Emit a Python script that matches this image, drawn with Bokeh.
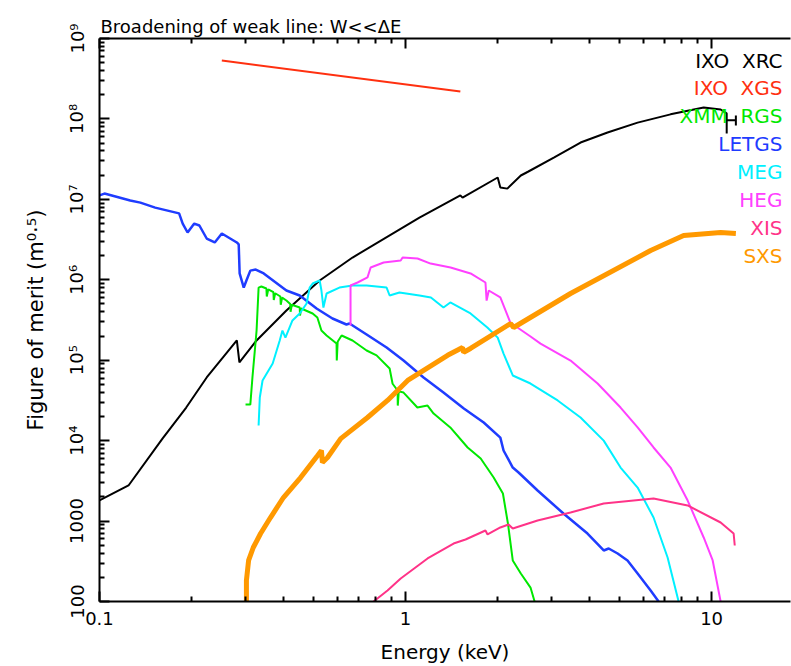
from bokeh.plotting import figure
from bokeh.models import LogAxis, FixedTicker, Label, Range1d
from bokeh.embed import file_html
from bokeh.resources import INLINE

# ---------------- data (energy keV, figure of merit m^0.5) ----------------
xrc_e = [0.100, 0.1244, 0.1606, 0.192, 0.224, 0.281, 0.2865, 0.326, 0.408, 0.524,
         0.671, 1.11, 1.51, 1.535, 2.00, 2.04, 2.15, 2.38, 2.52, 3.05, 3.73, 4.57,
         5.73, 7.34, 9.42, 10.7, 11.2, 11.2, 11.2, 12.0, 12.0, 12.0]
xrc_f = [1803, 2770, 1.06e4, 2.58e4, 6.1e4, 1.76e5, 9.4e4, 1.76e5, 4.15e5, 9.8e5,
         1.89e6, 5.94e6, 1.12e7, 1.05e7, 1.87e7, 1.40e7, 1.36e7, 1.98e7, 2.22e7, 3.31e7,
         5.09e7, 6.78e7, 9.0e7, 1.14e8, 1.39e8, 1.31e8, 1.17e8, 6.6e7, 9.6e7, 9.6e7,
         1.10e8, 8.3e7]

xgs_e = [0.251, 1.51]
xgs_f = [5.32e8, 2.19e8]

rgs_e = [0.300, 0.311, 0.316, 0.326, 0.331, 0.338, 0.351, 0.352, 0.356, 0.370, 0.371,
         0.375, 0.390, 0.391, 0.395, 0.408, 0.420, 0.421, 0.425, 0.451, 0.452, 0.456,
         0.497, 0.515, 0.531, 0.552, 0.595, 0.596, 0.600, 0.618, 0.671, 0.746, 0.804,
         0.887, 0.907, 0.942, 0.943, 0.950, 0.985, 1.093, 1.18, 1.235, 1.40, 1.595,
         1.76, 1.94, 2.08, 2.16, 2.24, 2.38, 2.56, 2.64]
rgs_f = [2.81e4, 2.81e4, 6.1e4, 2.34e5, 8.0e5, 8.25e5, 7.8e5, 6.2e5, 7.6e5, 7.0e5, 5.6e5,
         6.8e5, 6.2e5, 4.9e5, 6.0e5, 5.52e5, 5.0e5, 4.0e5, 4.9e5, 4.52e5, 3.6e5, 4.4e5,
         3.81e5, 3.40e5, 2.34e5, 2.03e5, 1.61e5, 9.9e4, 1.7e5, 2.03e5, 1.76e5, 1.32e5, 1.15e5,
         7.9e4, 5.1e4, 4.2e4, 2.73e4, 4.1e4, 3.96e4, 2.58e4, 2.73e4, 2.17e4, 1.46e4, 8220,
         6000, 3480, 2200, 933, 324, 223, 149, 100]

letg_e = [0.100, 0.1038, 0.126, 0.136, 0.152, 0.182, 0.187, 0.194, 0.204, 0.212, 0.224,
          0.238, 0.251, 0.281, 0.285, 0.287, 0.296, 0.302, 0.311, 0.324, 0.344, 0.408,
          0.451, 0.512, 0.577, 0.641, 0.656, 0.746, 0.867, 0.985, 1.145, 1.33, 1.55,
          1.80, 2.04, 2.09, 2.24, 2.34, 2.70, 3.28, 3.93, 4.44, 4.61, 4.93, 5.31, 5.73,
          6.32, 6.71]
letg_f = [1.12e7, 1.18e7, 9.7e6, 9.1e6, 7.9e6, 6.7e6, 5.0e6, 3.87e6, 5.0e6, 4.73e6, 3.26e6,
          2.91e6, 3.76e6, 2.91e6, 2.75e6, 1.20e6, 8.0e5, 9.8e5, 1.30e6, 1.34e6, 1.20e6, 7.36e5,
          6.38e5, 4.40e5, 3.30e5, 2.78e5, 2.86e5, 2.09e5, 1.44e5, 9.9e4, 6.1e4, 3.97e4, 2.51e4,
          1.68e4, 1.09e4, 7540, 4630, 4020, 2400, 1241, 700, 431, 456, 395, 324, 223,
          137, 100]

meg_e = [0.331, 0.334, 0.341, 0.368, 0.388, 0.396, 0.405, 0.427, 0.451, 0.475, 0.486,
         0.497, 0.524, 0.531, 0.539, 0.552, 0.608, 0.671, 0.746, 0.867, 0.887, 0.955,
         1.11, 1.21, 1.33, 1.40, 1.63, 1.85, 2.00, 2.09, 2.24, 2.56, 3.14, 3.73, 4.44,
         5.04, 5.73, 6.46, 7.18, 7.80]
meg_f = [1.54e4, 3.44e4, 5.6e4, 9.1e4, 1.76e5, 2.34e5, 1.91e5, 3.12e5, 3.81e5, 5.07e5, 8.0e5,
         9.0e5, 9.8e5, 7.36e5, 4.52e5, 6.75e5, 8.0e5, 8.5e5, 8.5e5, 8.0e5, 6.38e5, 6.95e5,
         6.38e5, 6.03e5, 4.52e5, 5.22e5, 3.81e5, 2.55e5, 1.91e5, 1.21e5, 6.46e4, 5.13e4,
         3.16e4, 1.94e4, 1.0e4, 4630, 2610, 1107, 352, 100]

heg_e = [0.661, 0.661, 0.697, 0.751, 0.769, 0.848, 0.964, 0.978, 1.094, 1.207, 1.403,
         1.631, 1.824, 1.84, 1.87, 2.04, 2.20, 2.32, 2.56, 2.76, 3.46, 4.24, 5.04, 5.73,
         6.46, 7.34, 8.35, 9.42, 10.08, 10.7]
heg_f = [2.70e5, 8.5e5, 9.25e5, 1.07e6, 1.42e6, 1.64e6, 1.74e6, 1.89e6, 1.84e6, 1.59e6, 1.42e6,
         1.20e6, 9.25e5, 5.5e5, 7.36e5, 6.03e5, 2.94e5, 2.55e5, 1.97e5, 1.61e5, 9.9e4, 5.13e4,
         2.58e4, 1.46e4, 8220, 4630, 1800, 625, 324, 100]

xis_e = [0.786, 0.873, 0.964, 1.18, 1.435, 1.57, 1.824, 1.853, 2.04, 2.17, 2.24, 2.70,
         3.46, 4.44, 6.46, 8.35, 10.7, 11.8, 11.9]
xis_f = [100, 137, 193, 343, 526, 590, 764, 681, 832, 906, 809, 1016,
         1279, 1653, 1909, 1563, 960, 700, 497]

sxs_e = [0.302, 0.302, 0.307, 0.318, 0.336, 0.362, 0.399, 0.454, 0.516, 0.531, 0.535,
         0.556, 0.614, 0.751, 0.873, 1.016, 1.372, 1.535, 1.548, 1.630, 2.203, 2.254,
         3.46, 6.32, 8.10, 10.7, 12.0]
sxs_f = [100, 182, 324, 469, 700, 1107, 1963, 3480, 6540, 7540, 5350,
         6170, 1.06e4, 1.94e4, 3.16e4, 5.6e4, 1.15e5, 1.44e5, 1.25e5, 1.40e5, 2.86e5, 2.55e5,
         6.75e5, 2.31e6, 3.55e6, 3.88e6, 3.77e6]

names = ["IXO\u00a0\u00a0XRC", "IXO\u00a0\u00a0XGS", "XMM\u00a0\u00a0RGS",
         "LETGS", "MEG", "HEG", "XIS", "SXS"]
colors = ["#000000", "#ff3010", "#00e800", "#1f3cff", "#00f0ff", "#ff40ff", "#ff3388", "#ff9900"]
widths = [2, 2, 2, 2.5, 2, 2, 2, 5]
series = [(xrc_e, xrc_f), (xgs_e, xgs_f), (rgs_e, rgs_f), (letg_e, letg_f),
          (meg_e, meg_f), (heg_e, heg_f), (xis_e, xis_f), (sxs_e, sxs_f)]

x_major = [0.1, 1, 10]
x_minor = [0.2, 0.3, 0.4, 0.5, 0.6, 0.7, 0.8, 0.9, 2, 3, 4, 5, 6, 7, 8, 9]
y_major = [1e2, 1e3, 1e4, 1e5, 1e6, 1e7, 1e8, 1e9]
y_minor = [m * 10 ** k for k in range(2, 9) for m in range(2, 10)]
y_labels = {1e2: "100", 1e3: "1000", 1e4: "10\u2074", 1e5: "10\u2075", 1e6: "10\u2076",
            1e7: "10\u2077", 1e8: "10\u2078", 1e9: "10\u2079"}
x_labels = {0.1: "0.1", 1: "1", 10: "10"}
title_text = "Broadening of weak line: W<<\u0394E"
x_title = "Energy (keV)"
y_title = "Figure of merit (m\u2070\u00b7\u2075)"

# ---------------- layout ----------------
W, H = 791, 666
FL, FR, FT, FB = 99, 790, 38, 601
FONT = "DejaVu Sans"

p = figure(width=W, height=H, x_axis_type="log", y_axis_type="log",
           x_range=Range1d(0.1, 18.1), y_range=Range1d(100, 1e9),
           output_backend="svg", toolbar_location=None,
           min_border_left=FL, min_border_right=W - FR, min_border_top=FT,
           min_border_bottom=H - FB)
p.outline_line_color = None
p.grid.visible = False
p.background_fill_color = "white"
p.border_fill_color = "white"

p.title.text = title_text
p.title.align = "left"
p.title.text_font = FONT
p.title.text_font_size = "18px"
p.title.text_font_style = "normal"
p.title.text_color = "black"
p.title.standoff = 3
p.title.offset = 1

def style(ax, labels=True):
    ax.axis_line_width = 2
    ax.axis_line_color = "black"
    ax.major_tick_in = 10
    ax.major_tick_out = 0
    ax.minor_tick_in = 5
    ax.minor_tick_out = 0
    ax.major_tick_line_width = 2
    ax.minor_tick_line_width = 2
    ax.major_label_text_font = FONT
    ax.major_label_text_font_size = "18px"
    ax.major_label_text_color = "black"
    ax.axis_label_text_font = FONT
    ax.axis_label_text_font_style = "normal"
    ax.axis_label_text_color = "black"
    if not labels:
        ax.major_label_text_font_size = "2px"
        ax.major_label_text_alpha = 0
        ax.major_label_standoff = 0

xa = p.xaxis[0]
xa.ticker = FixedTicker(ticks=x_major, minor_ticks=x_minor)
xa.major_label_overrides = x_labels
style(xa)
xa.major_label_standoff = 10
xa.axis_label = x_title
xa.axis_label_text_font_size = "20px"
xa.axis_label_standoff = 12

ya = p.yaxis[0]
ya.ticker = FixedTicker(ticks=y_major, minor_ticks=y_minor)
ya.major_label_overrides = y_labels
ya.major_label_orientation = "vertical"
style(ya)
ya.major_label_standoff = 12
ya.axis_label = y_title
ya.axis_label_text_font_size = "21px"
ya.axis_label_standoff = 16

top = LogAxis(ticker=FixedTicker(ticks=x_major, minor_ticks=x_minor))
style(top, labels=False)
p.add_layout(top, "above")

for (e, f), c, w in zip(series, colors, widths):
    p.line(e, f, line_color=c, line_width=w)

# legend texts (right aligned, inside the frame)
for i, (n, c) in enumerate(zip(names, colors)):
    p.add_layout(Label(x=782, y=60 + 27.9 * i, x_units="canvas", y_units="canvas", text=n,
                       text_align="right", text_baseline="middle", text_color=c,
                       text_font=FONT, text_font_size="20px"))

open("out.html", "w").write(file_html(p, INLINE))
